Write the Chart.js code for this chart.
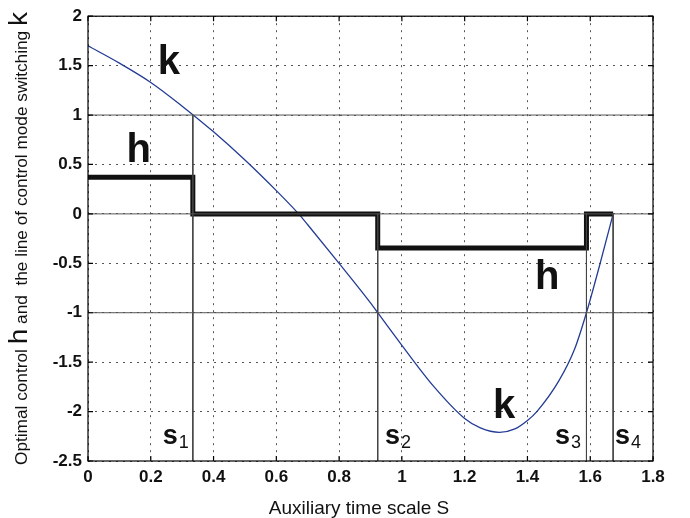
<!DOCTYPE html>
<html>
<head>
<meta charset="utf-8">
<script src="https://cdn.jsdelivr.net/npm/chart.js@4.4.1/dist/chart.umd.min.js"></script>
<style>
  html, body { margin: 0; padding: 0; background: #fff; }
  #wrap { width: 690px; height: 518px; }
</style>
</head>
<body>
<div id="wrap"><canvas id="chart"></canvas></div>
<script>
// switching line k
const kS   = [0, 0.1, 0.2, 0.3, 0.4, 0.5, 0.6, 0.671, 0.7, 0.8, 0.9, 0.923, 1.0, 1.1, 1.2, 1.25, 1.311, 1.36, 1.4, 1.43, 1.5, 1.55, 1.588, 1.63, 1.673];
const kVal = [1.70, 1.525, 1.33, 1.09, 0.83, 0.545, 0.235, 0, -0.11, -0.5, -0.9, -1.0, -1.33, -1.74, -2.07, -2.165, -2.21, -2.175, -2.09, -2.0, -1.69, -1.37, -1.0, -0.52, 0];

// optimal control h (piecewise constant)
const hS   = [0, 0.334, 0.334, 0.923, 0.923, 1.588, 1.588, 1.673];
const hVal = [0.37, 0.37, 0, 0, -0.345, -0.345, 0, 0];

// switching moments s1..s4 and where their thin vertical line starts
const switchS   = [0.334, 0.923, 1.588, 1.673];
const switchTop = [1, 0, 0, 0];
const switchNames = ['1', '2', '3', '4'];

// solid reference levels
const refLevels = [1, 0, -1];

const xTicks = [0, 0.2, 0.4, 0.6, 0.8, 1, 1.2, 1.4, 1.6, 1.8];
const yTicks = [-2.5, -2, -1.5, -1, -0.5, 0, 0.5, 1, 1.5, 2];

const FONT = "'Liberation Sans', Arial, sans-serif";

// build datasets
const datasets = [];

refLevels.forEach(lv => {
  datasets.push({
    data: [{ x: 0, y: lv }, { x: 1.8, y: lv }],
    borderColor: '#555', borderWidth: 1, pointRadius: 0
  });
});

switchS.forEach((s, i) => {
  datasets.push({
    data: [{ x: s, y: switchTop[i] }, { x: s, y: -2.5 }],
    borderColor: '#444', borderWidth: 1, pointRadius: 0
  });
});

datasets.push({
  data: hS.map((s, i) => ({ x: s, y: hVal[i] })),
  borderColor: '#111', borderWidth: 5, pointRadius: 0,
  borderJoinStyle: 'miter', borderCapStyle: 'butt'
});

datasets.push({
  data: kS.map((s, i) => ({ x: s, y: kVal[i] })),
  borderColor: '#233c95', borderWidth: 1.3, pointRadius: 0,
  cubicInterpolationMode: 'monotone'
});

// frame, inward ticks, titles and curve labels
const decorPlugin = {
  id: 'decor',
  afterDraw(chart) {
    const ctx = chart.ctx;
    const a = chart.chartArea;
    const xs = chart.scales.x, ys = chart.scales.y;
    ctx.save();

    // frame
    ctx.strokeStyle = '#000';
    ctx.lineWidth = 1.2;
    ctx.strokeRect(a.left, a.top, a.right - a.left, a.bottom - a.top);

    // inward ticks
    ctx.beginPath();
    xTicks.forEach(v => {
      const px = xs.getPixelForValue(v);
      ctx.moveTo(px, a.bottom); ctx.lineTo(px, a.bottom - 5);
      ctx.moveTo(px, a.top); ctx.lineTo(px, a.top + 5);
    });
    yTicks.forEach(v => {
      const py = ys.getPixelForValue(v);
      ctx.moveTo(a.left, py); ctx.lineTo(a.left + 5, py);
      ctx.moveTo(a.right, py); ctx.lineTo(a.right - 5, py);
    });
    ctx.stroke();

    ctx.fillStyle = '#111';
    ctx.textBaseline = 'alphabetic';

    // x title
    ctx.font = '19px ' + FONT;
    ctx.textAlign = 'center';
    ctx.fillText('Auxiliary time scale S', 359, 514);

    // y title, mixed sizes, rotated and stretched to the reference length
    const parts = [
      ['Optimal control ', 16], ['h', 26], [' and  the line of control mode switching ', 16], ['k', 26]
    ];
    let total = 0;
    parts.forEach(p => {
      ctx.font = p[1] + 'px ' + FONT;
      total += ctx.measureText(p[0]).width;
    });
    ctx.save();
    ctx.translate(27, 465);
    ctx.rotate(-Math.PI / 2);
    ctx.scale(453 / total, 1);
    ctx.textAlign = 'left';
    let off = 0;
    parts.forEach(p => {
      ctx.font = p[1] + 'px ' + FONT;
      ctx.fillText(p[0], off, 0);
      off += ctx.measureText(p[0]).width;
    });
    ctx.restore();

    // curve labels
    ctx.textAlign = 'left';
    const big = [
      ['k', 0.222, 1.417], ['h', 0.123, 0.528], ['h', 1.424, -0.76], ['k', 1.29, -2.067]
    ];
    ctx.font = 'bold 40px ' + FONT;
    big.forEach(b => ctx.fillText(b[0], xs.getPixelForValue(b[1]), ys.getPixelForValue(b[2])));

    // s labels with subscripts
    const sLeft = [0.238, 0.946, 1.488, 1.679];
    switchNames.forEach((n, i) => {
      const px = xs.getPixelForValue(sLeft[i]);
      const py = ys.getPixelForValue(-2.329);
      ctx.font = 'bold 27px ' + FONT;
      ctx.fillText('s', px, py);
      const w = ctx.measureText('s').width;
      ctx.font = '18px ' + FONT;
      ctx.fillText(n, px + w + 1, py + 4);
    });

    ctx.restore();
  }
};

const ctx = document.getElementById('chart').getContext('2d');
new Chart(ctx, {
  type: 'line',
  data: { datasets: datasets },
  options: {
    responsive: true,
    maintainAspectRatio: false,
    animation: false,
    parsing: false,
    layout: { padding: { top: 13, right: 37, left: 0, bottom: 0 } },
    plugins: { legend: { display: false }, tooltip: { enabled: false } },
    scales: {
      x: {
        type: 'linear', min: 0, max: 1.8,
        afterBuildTicks: s => { s.ticks = xTicks.map(v => ({ value: v })); },
        afterFit: s => { s.height = 57; },
        grid: { color: '#555', lineWidth: 1, drawTicks: false },
        border: { display: false, dash: [2, 5] },
        ticks: {
          padding: 6, color: '#111',
          font: { family: FONT, size: 17, weight: 'bold' },
          callback: v => String(v)
        }
      },
      y: {
        type: 'linear', min: -2.5, max: 2,
        afterBuildTicks: s => { s.ticks = yTicks.map(v => ({ value: v })); },
        afterFit: s => { s.width = 88; },
        grid: { color: '#555', lineWidth: 1, drawTicks: false },
        border: { display: false, dash: [2, 5] },
        ticks: {
          padding: 6, color: '#111',
          font: { family: FONT, size: 17, weight: 'bold' },
          callback: v => String(v)
        }
      }
    }
  },
  plugins: [decorPlugin]
});
</script>
</body>
</html>
